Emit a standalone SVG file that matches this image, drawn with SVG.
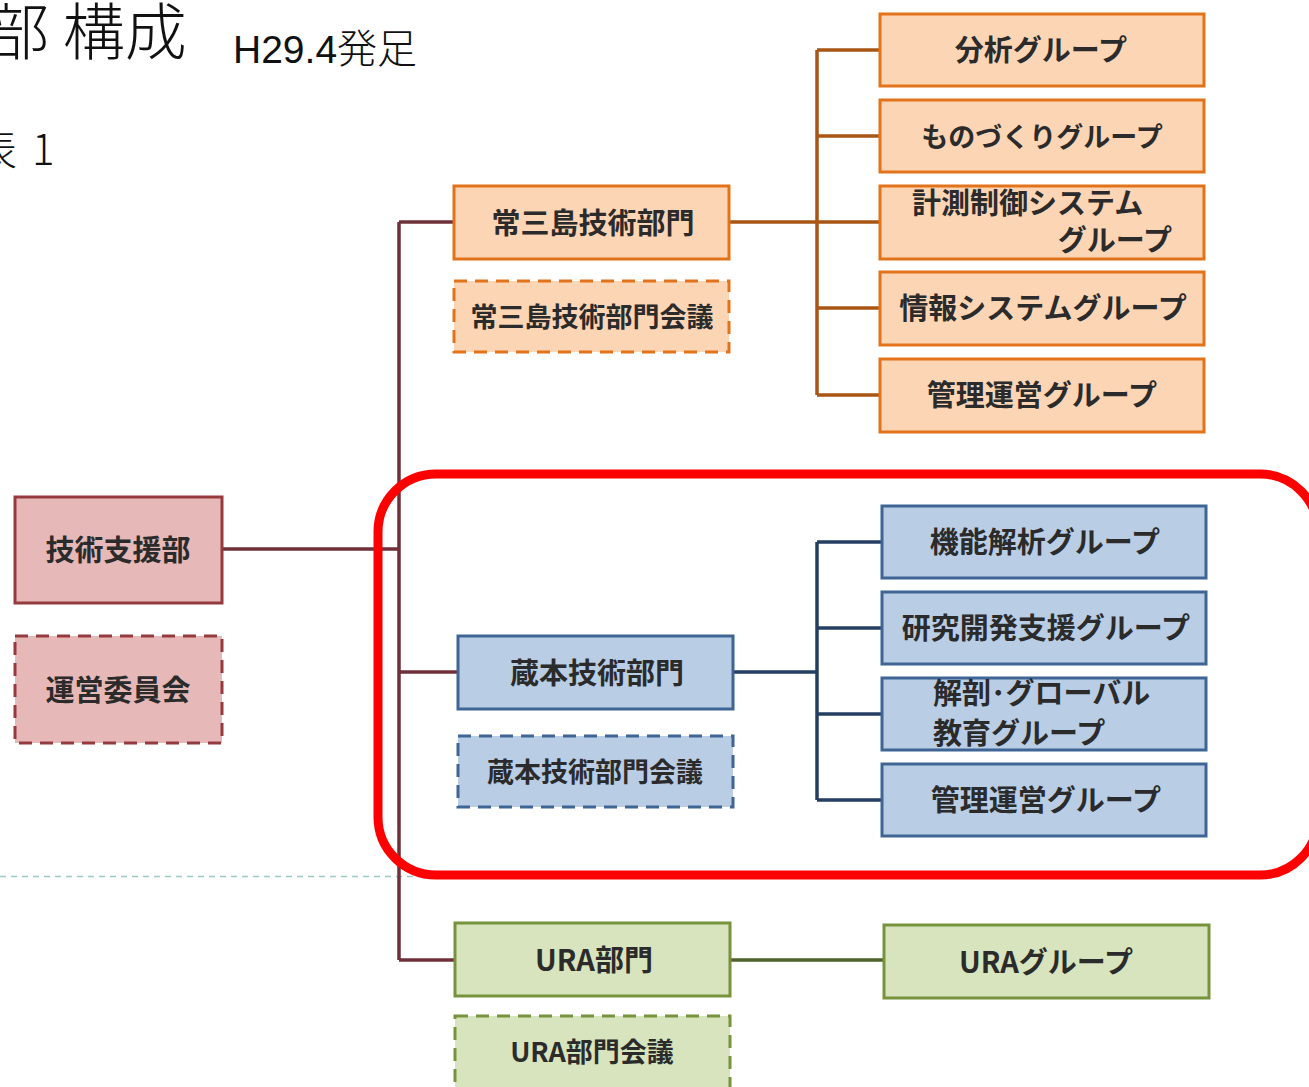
<svg xmlns="http://www.w3.org/2000/svg" width="1309" height="1087" viewBox="0 0 1309 1087">
<style>
.t{font-family:"Noto Sans CJK JP","Noto Sans",sans-serif;font-weight:700;font-size:29px;fill:#2b2b2b;text-anchor:middle}
.s{font-size:27px}
.pk{fill:#e6b9b8;stroke:#953a3f;stroke-width:3}
.or{fill:#fcd5b5;stroke:#e3731b;stroke-width:3}
.bl{fill:#b9cde5;stroke:#3f6595;stroke-width:3}
.gr{fill:#d7e4bd;stroke:#77933c;stroke-width:3}
.d{stroke-dasharray:13 8}
.c{fill:none;stroke-width:3.5}
</style>
<rect width="1309" height="1087" fill="#ffffff"/>
<g id="title">
<text x="-13" y="55" style="font-family:'Noto Sans CJK JP',sans-serif;font-weight:300;font-size:62px;fill:#111">部 構成</text>
<text x="233" y="63" style="font-family:'Liberation Sans','Noto Sans CJK JP',sans-serif;font-size:39px;fill:#111">H29.4<tspan style="font-family:'Noto Sans CJK JP',sans-serif;font-weight:300;font-size:40px">発足</tspan></text>
<text x="-25" y="165" style="font-family:'Noto Sans CJK JP',sans-serif;font-weight:300;font-size:42px;fill:#111">表<tspan x="32">1</tspan></text>
</g>
<line x1="0" y1="876.5" x2="420" y2="876.5" stroke="#9ccac4" stroke-width="1.5" stroke-dasharray="6 5"/>
<g id="connectors">
<path class="c" stroke="#70303a" d="M222 549H399M399 222V960M399 222H454M399 672H458M399 960H455"/>
<path class="c" stroke="#a95614" d="M729 222H817M817 50V395M817 50H880M817 136H880M817 222H880M817 308H880M817 395H880"/>
<path class="c" stroke="#243f62" d="M733 672H817M817 542V800M817 542H882M817 628H882M817 714H882M817 800H882"/>
<path class="c" stroke="#4f6228" d="M730 960H884"/>
</g>
<g id="n-shien"><rect class="pk" x="15" y="497" width="207" height="106"/><text class="t" x="118" y="561">技術支援部</text></g>
<g id="n-unei"><rect class="pk d" x="15" y="636" width="207" height="107"/><text class="t" x="118" y="701">運営委員会</text></g>
<g id="n-josanjima"><rect class="or" x="454" y="186" width="275" height="73"/><text class="t" x="593" y="234">常三島技術部門</text></g>
<g id="n-josanjima-kaigi"><rect class="or d" x="454" y="281" width="275" height="71"/><text class="t s" x="592" y="327">常三島技術部門会議</text></g>
<g id="n-bunseki"><rect class="or" x="880" y="14" width="324" height="72"/><text class="t" x="1041" y="61">分析グループ</text></g>
<g id="n-monozukuri"><rect class="or" x="880" y="100" width="324" height="72"/><text class="t s" x="1042" y="147">ものづくりグループ</text></g>
<g id="n-keisoku"><rect class="or" x="880" y="186" width="324" height="73"/><text class="t" x="912" y="214" style="text-anchor:start">計測制御システム</text><text class="t" x="1172" y="251" style="text-anchor:end">グループ</text></g>
<g id="n-joho"><rect class="or" x="880" y="272" width="324" height="73"/><text class="t" x="1043" y="319">情報システムグループ</text></g>
<g id="n-kanri1"><rect class="or" x="880" y="359" width="324" height="73"/><text class="t" x="1042" y="406">管理運営グループ</text></g>
<g id="n-kuramoto"><rect class="bl" x="458" y="636" width="275" height="73"/><text class="t" x="597" y="684">蔵本技術部門</text></g>
<g id="n-kuramoto-kaigi"><rect class="bl d" x="458" y="736" width="275" height="71"/><text class="t s" x="595" y="782">蔵本技術部門会議</text></g>
<g id="n-kino"><rect class="bl" x="882" y="506" width="324" height="72"/><text class="t" x="1045" y="553">機能解析グループ</text></g>
<g id="n-kenkyu"><rect class="bl" x="882" y="592" width="324" height="72"/><text class="t" x="1046" y="639">研究開発支援グループ</text></g>
<g id="n-kaibo"><rect class="bl" x="882" y="678" width="324" height="72"/><text class="t" x="933" y="704" style="text-anchor:start">解剖･グローバル</text><text class="t" x="933" y="744" style="text-anchor:start">教育グループ</text></g>
<g id="n-kanri2"><rect class="bl" x="882" y="764" width="324" height="72"/><text class="t" x="1046" y="811">管理運営グループ</text></g>
<g id="n-ura"><rect class="gr" x="455" y="923" width="275" height="73"/><text class="t" x="594" y="971">URA部門</text></g>
<g id="n-ura-kaigi"><rect class="gr d" x="455" y="1016" width="275" height="73"/><text class="t s" x="592" y="1062">URA部門会議</text></g>
<g id="n-ura-group"><rect class="gr" x="884" y="925" width="325" height="73"/><text class="t" x="1046" y="973">URAグループ</text></g>
<rect id="highlight" x="378" y="474" width="940" height="401" rx="58" fill="none" stroke="#ff0000" stroke-width="9"/>
</svg>
